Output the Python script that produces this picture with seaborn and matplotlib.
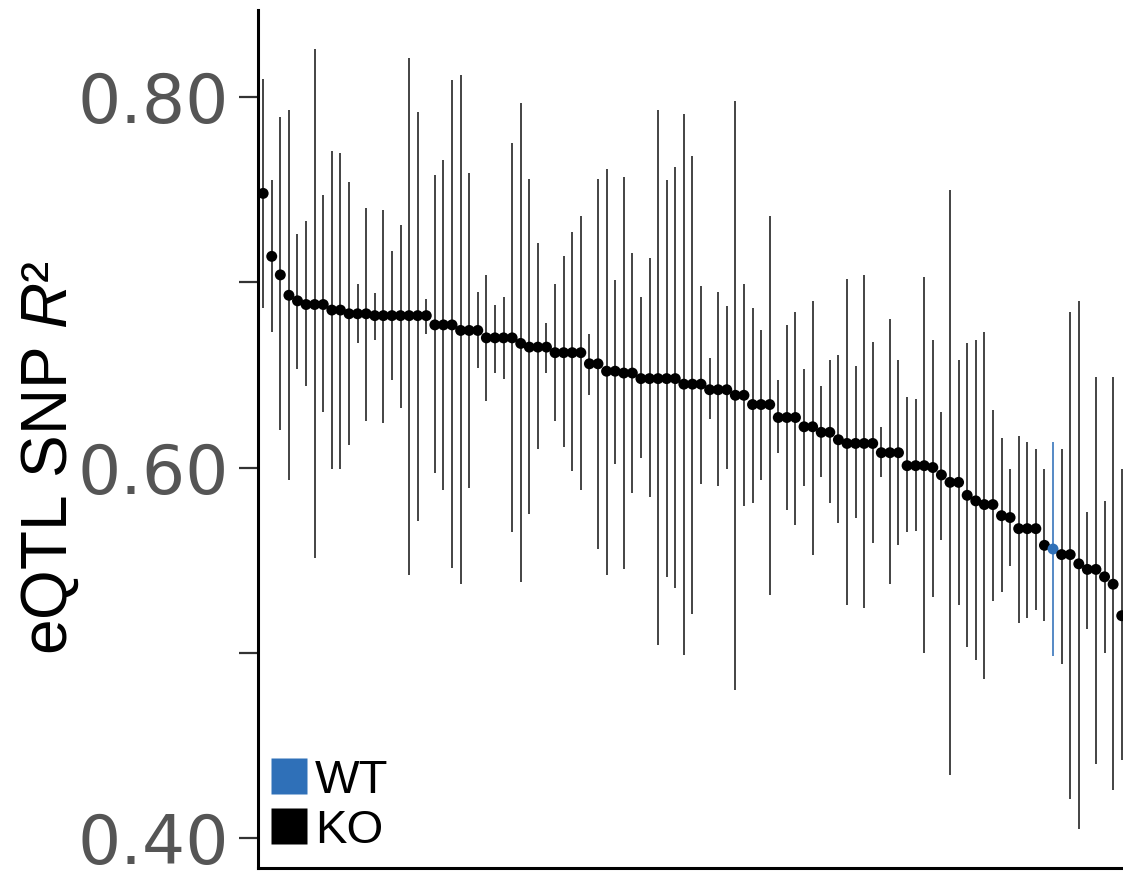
import numpy as np
import pandas as pd
import matplotlib
matplotlib.use("Agg")
import matplotlib.pyplot as plt
from matplotlib.lines import Line2D
import seaborn as sns

# eQTL SNP R^2 per knockout line, sorted in descending order, with 95% intervals
r2 = [0.748, 0.714, 0.704, 0.693, 0.690, 0.688, 0.688, 0.688, 0.685, 0.685,
      0.683, 0.683, 0.683, 0.682, 0.682, 0.682, 0.682, 0.682, 0.682, 0.682,
      0.677, 0.677, 0.677, 0.674, 0.674, 0.674, 0.670, 0.670, 0.670, 0.670,
      0.667, 0.665, 0.665, 0.665, 0.662, 0.662, 0.662, 0.662, 0.656, 0.656,
      0.652, 0.652, 0.651, 0.651, 0.648, 0.648, 0.648, 0.648, 0.648, 0.645,
      0.645, 0.645, 0.642, 0.642, 0.642, 0.639, 0.639, 0.634, 0.634, 0.634,
      0.627, 0.627, 0.627, 0.622, 0.622, 0.619, 0.619, 0.615, 0.613, 0.613,
      0.613, 0.613, 0.608, 0.608, 0.608, 0.601, 0.601, 0.601, 0.600, 0.596,
      0.592, 0.592, 0.585, 0.582, 0.580, 0.580, 0.574, 0.573, 0.567, 0.567,
      0.567, 0.558, 0.556, 0.553, 0.553, 0.548, 0.545, 0.545, 0.541, 0.537,
      0.520]

ci_high = [0.810, 0.755, 0.789, 0.793, 0.726, 0.733, 0.826, 0.747, 0.771, 0.770,
           0.754, 0.699, 0.740, 0.694, 0.739, 0.717, 0.731, 0.821, 0.792, 0.691,
           0.758, 0.766, 0.809, 0.812, 0.759, 0.695, 0.704, 0.688, 0.692, 0.775,
           0.797, 0.756, 0.721, 0.678, 0.699, 0.714, 0.727, 0.736, 0.672, 0.756,
           0.761, 0.701, 0.757, 0.716, 0.692, 0.713, 0.793, 0.755, 0.762, 0.791,
           0.768, 0.698, 0.659, 0.695, 0.687, 0.798, 0.699, 0.686, 0.674, 0.736,
           0.647, 0.677, 0.684, 0.653, 0.690, 0.644, 0.658, 0.661, 0.702, 0.655,
           0.704, 0.668, 0.622, 0.680, 0.658, 0.638, 0.637, 0.703, 0.669, 0.630,
           0.750, 0.658, 0.667, 0.669, 0.673, 0.631, 0.616, 0.599, 0.617, 0.614,
           0.610, 0.599, 0.614, 0.610, 0.684, 0.690, 0.576, 0.649, 0.582, 0.649,
           0.599]

ci_low = [0.686, 0.673, 0.620, 0.593, 0.653, 0.644, 0.551, 0.630, 0.599, 0.599,
          0.612, 0.667, 0.625, 0.669, 0.624, 0.647, 0.632, 0.542, 0.571, 0.672,
          0.597, 0.588, 0.546, 0.537, 0.589, 0.654, 0.636, 0.651, 0.648, 0.565,
          0.538, 0.575, 0.610, 0.651, 0.625, 0.611, 0.598, 0.588, 0.639, 0.556,
          0.542, 0.602, 0.545, 0.586, 0.605, 0.584, 0.504, 0.541, 0.535, 0.499,
          0.521, 0.591, 0.626, 0.590, 0.599, 0.480, 0.579, 0.581, 0.593, 0.531,
          0.608, 0.577, 0.569, 0.590, 0.553, 0.595, 0.581, 0.570, 0.526, 0.573,
          0.524, 0.559, 0.595, 0.537, 0.558, 0.565, 0.566, 0.500, 0.530, 0.561,
          0.434, 0.526, 0.503, 0.496, 0.486, 0.528, 0.533, 0.547, 0.516, 0.519,
          0.523, 0.517, 0.498, 0.494, 0.421, 0.405, 0.513, 0.440, 0.500, 0.426,
          0.442]

# the wild-type line sits among the knockouts at rank 92
genotype = ["KO"] * len(r2)
genotype[92] = "WT"

legend_labels = ["WT", "KO"]
y_ticks = [0.40, 0.50, 0.60, 0.70, 0.80]
y_ticklabels = ["0.40", "", "0.60", "", "0.80"]

palette = {"WT": "#2f70b8", "KO": "#000000"}

df = pd.DataFrame({
    "rank": np.arange(len(r2)),
    "r2": r2,
    "lo": ci_low,
    "hi": ci_high,
    "genotype": genotype,
})

sns.set_theme(style="ticks")
plt.rcParams["font.family"] = ["DejaVu Sans"]
plt.rcParams["mathtext.fontset"] = "custom"
plt.rcParams["mathtext.rm"] = "Liberation Sans"
plt.rcParams["mathtext.it"] = "Liberation Sans:italic"

fig = plt.figure(figsize=(11.23, 8.88), dpi=100)
ax = fig.add_axes([258 / 1123, 20 / 888, 865 / 1123, 858 / 888])

# interval whiskers
line_colors = [palette[g] if g == "WT" else "#1a1a1a" for g in df["genotype"]]
ax.vlines(df["rank"], df["lo"], df["hi"], colors=line_colors, linewidth=1.15, zorder=2)

# point estimates
sns.scatterplot(data=df, x="rank", y="r2", hue="genotype", palette=palette,
                s=62, edgecolor="none", linewidth=0, legend=False, ax=ax, zorder=3)

ax.set_xlim(-0.6, 100.15)
ax.set_ylim(0.3838, 0.847)
ax.set_xticks([])
ax.set_xlabel("")
ax.set_yticks(y_ticks)
ax.set_yticklabels(y_ticklabels)
ax.tick_params(axis="y", length=14, width=1.6, color="#333333",
               labelsize=49, labelcolor="#555555", pad=7)

for side in ("top", "right"):
    ax.spines[side].set_visible(False)
for side in ("left", "bottom"):
    ax.spines[side].set_linewidth(2.2)
    ax.spines[side].set_color("black")

ax.set_ylabel("eQTL SNP $R$²", fontsize=46, family="Liberation Sans", color="black")
ax.yaxis.label.set_verticalalignment("center")
ax.yaxis.set_label_coords(-0.240, 0.478)

handles = [Line2D([], [], marker="s", linestyle="none", markersize=26,
                  markerfacecolor=palette[g], markeredgecolor="none")
           for g in legend_labels]
leg = ax.legend(handles, legend_labels, loc="lower left", bbox_to_anchor=(0.014, 0.018),
                frameon=False, handlelength=0.8, handletextpad=0.15, borderpad=0,
                borderaxespad=0, labelspacing=0.12,
                prop={"family": "Liberation Sans", "size": 34})
for t in leg.get_texts():
    t.set_color("black")

fig.savefig("out.png", dpi=100)
